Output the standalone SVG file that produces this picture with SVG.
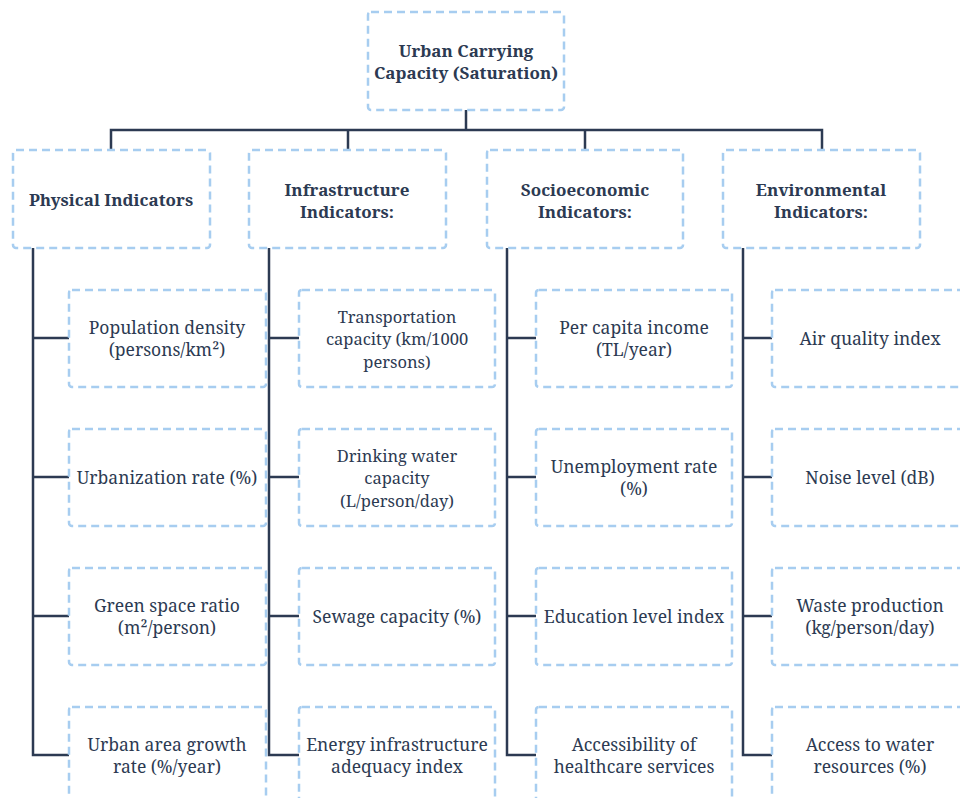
<svg xmlns="http://www.w3.org/2000/svg" width="960" height="798" viewBox="0 0 960 798">
<style>
.box{fill:#fff;stroke:#a7cdf0;stroke-width:2.5;stroke-dasharray:8 5}
.t{font-size:17.5px;fill:#2c3a52;text-anchor:middle;dominant-baseline:central}
.b{font-weight:bold;font-size:17px}
.s{font-size:16.5px}
.c{fill:none;stroke:#2c3a52;stroke-width:2.5}
</style>
<rect width="960" height="798" fill="#fff"/>
<g id="connectors">
<path class="c" d="M466 110V130M111 150V130H822V150M348 130V150M585 130V150"/>
<path class="c" d="M33 248V755H69M33 338H69M33 477H69M33 616H69"/>
<path class="c" d="M269 248V755H299M269 338H299M269 477H299M269 616H299"/>
<path class="c" d="M507 248V755H536M507 338H536M507 477H536M507 616H536"/>
<path class="c" d="M743 248V755H772M743 338H772M743 477H772M743 616H772"/>
</g>
<g font-family="Noto Sans, sans-serif" style="font-family:'Noto Serif','Liberation Serif',serif">
<g id="root"><rect class="box" x="368" y="12" width="196" height="98" rx="3"/><text class="t b" x="466" y="50"><tspan x="466" y="50">Urban Carrying</tspan><tspan x="466" y="72">Capacity (Saturation)</tspan></text></g>
<g id="physical"><rect class="box" x="13" y="150" width="197" height="98" rx="3"/><text class="t b" x="111" y="199">Physical Indicators</text></g>
<g id="infrastructure"><rect class="box" x="249" y="150" width="197" height="98" rx="3"/><text class="t b"><tspan x="347" y="189">Infrastructure</tspan><tspan x="347" y="211">Indicators:</tspan></text></g>
<g id="socioeconomic"><rect class="box" x="487" y="150" width="196" height="98" rx="3"/><text class="t b"><tspan x="585" y="189">Socioeconomic</tspan><tspan x="585" y="211">Indicators:</tspan></text></g>
<g id="environmental"><rect class="box" x="723" y="150" width="197" height="98" rx="3"/><text class="t b"><tspan x="821" y="189">Environmental</tspan><tspan x="821" y="211">Indicators:</tspan></text></g>

<g id="p1"><rect class="box" x="69" y="290" width="197" height="97" rx="3"/><text class="t"><tspan x="167" y="327">Population density</tspan><tspan x="167" y="349">(persons/km²)</tspan></text></g>
<g id="p2"><rect class="box" x="69" y="429" width="197" height="97" rx="3"/><text class="t" x="167" y="477">Urbanization rate (%)</text></g>
<g id="p3"><rect class="box" x="69" y="568" width="197" height="97" rx="3"/><text class="t"><tspan x="167" y="605">Green space ratio</tspan><tspan x="167" y="627">(m²/person)</tspan></text></g>
<g id="p4"><rect class="box" x="69" y="707" width="197" height="97" rx="3"/><text class="t"><tspan x="167" y="744">Urban area growth</tspan><tspan x="167" y="766">rate (%/year)</tspan></text></g>

<g id="i1"><rect class="box" x="299" y="290" width="196" height="97" rx="3"/><text class="t s"><tspan x="397" y="315.5">Transportation</tspan><tspan x="397" y="338">capacity (km/1000</tspan><tspan x="397" y="360.5">persons)</tspan></text></g>
<g id="i2"><rect class="box" x="299" y="429" width="196" height="97" rx="3"/><text class="t s"><tspan x="397" y="454.5">Drinking water</tspan><tspan x="397" y="477">capacity</tspan><tspan x="397" y="499.5">(L/person/day)</tspan></text></g>
<g id="i3"><rect class="box" x="299" y="568" width="196" height="97" rx="3"/><text class="t" x="397" y="616">Sewage capacity (%)</text></g>
<g id="i4"><rect class="box" x="299" y="707" width="196" height="97" rx="3"/><text class="t"><tspan x="397" y="744">Energy infrastructure</tspan><tspan x="397" y="766">adequacy index</tspan></text></g>

<g id="s1"><rect class="box" x="536" y="290" width="196" height="97" rx="3"/><text class="t"><tspan x="634" y="327">Per capita income</tspan><tspan x="634" y="349">(TL/year)</tspan></text></g>
<g id="s2"><rect class="box" x="536" y="429" width="196" height="97" rx="3"/><text class="t"><tspan x="634" y="466">Unemployment rate</tspan><tspan x="634" y="488">(%)</tspan></text></g>
<g id="s3"><rect class="box" x="536" y="568" width="196" height="97" rx="3"/><text class="t" x="634" y="616">Education level index</text></g>
<g id="s4"><rect class="box" x="536" y="707" width="196" height="97" rx="3"/><text class="t"><tspan x="634" y="744">Accessibility of</tspan><tspan x="634" y="766">healthcare services</tspan></text></g>

<g id="e1"><rect class="box" x="772" y="290" width="197" height="97" rx="3"/><text class="t" x="870" y="338">Air quality index</text></g>
<g id="e2"><rect class="box" x="772" y="429" width="197" height="97" rx="3"/><text class="t" x="870" y="477">Noise level (dB)</text></g>
<g id="e3"><rect class="box" x="772" y="568" width="197" height="97" rx="3"/><text class="t"><tspan x="870" y="605">Waste production</tspan><tspan x="870" y="627">(kg/person/day)</tspan></text></g>
<g id="e4"><rect class="box" x="772" y="707" width="197" height="97" rx="3"/><text class="t"><tspan x="870" y="744">Access to water</tspan><tspan x="870" y="766">resources (%)</tspan></text></g>
</g>
</svg>
